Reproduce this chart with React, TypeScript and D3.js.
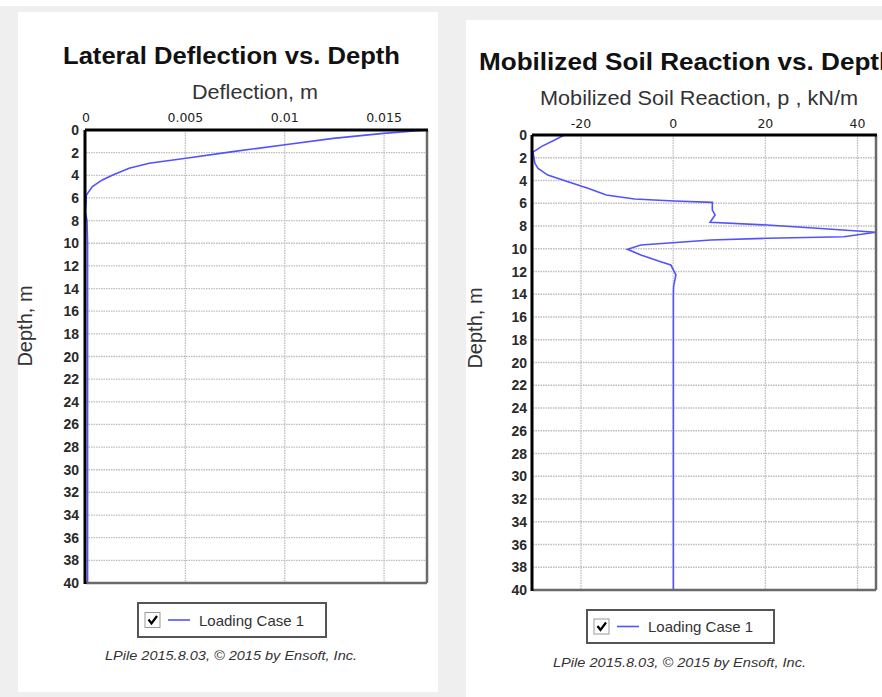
import React from "react";
import * as d3 from "d3";

// ---- Data ----
const depthTicks = [0, 2, 4, 6, 8, 10, 12, 14, 16, 18, 20, 22, 24, 26, 28, 30, 32, 34, 36, 38, 40];

const deflTicks = [0, 0.005, 0.01, 0.015];
const deflTickLabels = ["0", "0.005", "0.01", "0.015"];
const deflDepth = [0, 0.3, 0.74, 1.32, 1.91, 2.5, 2.94, 3.38, 3.97, 4.41, 5.0, 5.74, 6.5, 7.2, 8, 10, 15, 20, 25, 30, 35, 40];
const deflValue = [0.01716, 0.01497, 0.01244, 0.00992, 0.00739, 0.00503, 0.00318, 0.00217, 0.00135, 0.00082, 0.00032, 0.00002, 0.0, -0.00003, 0.00005, 0.00008, 0.00008, 0.00008, 0.00008, 0.00008, 0.00008, 0.00008];

const pTicks = [-20, 0, 20, 40];
const pTickLabels = ["-20", "0", "20", "40"];
const pDepth = [0, 0.44, 1.0, 1.5, 2.0, 2.49, 2.93, 3.52, 4.1, 4.69, 5.27, 5.63, 5.8, 5.92, 6.6, 7.03, 7.68, 7.91, 8.2, 8.55, 8.94, 9.08, 9.23, 9.67, 10.05, 10.55, 11.14, 11.43, 12.3, 13.3, 14, 20, 30, 40];
const pValue = [-23.6, -25.7, -28.5, -30.4, -30.2, -30.0, -29.3, -27.2, -22.8, -18.5, -14.5, -8.4, 0.2, 8.5, 8.5, 9.1, 8.0, 20.4, 31.2, 44.0, 37.0, 20.4, 8.2, -7.0, -9.9, -7.0, -2.7, -0.5, 0.6, 0.1, 0.05, 0.05, 0.05, 0.05];

const LINE = "#5252ff";
const FONT = "'Liberation Sans', Arial, Helvetica, sans-serif";
const TICKFONT = "'DejaVu Sans', Verdana, sans-serif";

type PanelProps = {
  id: string;
  title: string;
  titleX: number;
  titleY: number;
  titleSize: number;
  titleLength: number;
  xTitle: string;
  xTitleX: number;
  xTitleY: number;
  xTitleLength: number;
  yTitleX: number;
  yTitleY: number;
  plot: { x0: number; x1: number; y0: number; y1: number };
  xDomain: [number, number];
  xTicks: number[];
  xTickLabels: string[];
  xLabelY: number;
  yLabelX: number;
  depth: number[];
  values: number[];
  legend: { x: number; y: number; w: number; h: number };
  footerX: number;
  footerY: number;
  footerLength: number;
};

function Panel(p: PanelProps) {
  const { plot } = p;
  const x = d3.scaleLinear().domain(p.xDomain).range([plot.x0, plot.x1]);
  const y = d3.scaleLinear().domain([0, 40]).range([plot.y0, plot.y1]);
  const pts: [number, number][] = p.depth.map((d, i) => [p.values[i], d]);
  const line = d3
    .line<[number, number]>()
    .x((d) => x(d[0]))
    .y((d) => y(d[1]));
  const lg = p.legend;
  const cbx = lg.x + 7;
  const cby = lg.y + lg.h / 2 - 7.5;
  return (
    <g fontFamily={FONT}>
      <defs>
        <clipPath id={`clip-${p.id}`}>
          <rect x={plot.x0 - 1} y={plot.y0 - 1} width={plot.x1 - plot.x0 + 2} height={plot.y1 - plot.y0 + 2} />
        </clipPath>
      </defs>
      <text
        x={p.titleX}
        y={p.titleY}
        fontSize={p.titleSize}
        fontWeight="bold"
        fill="#111"
        textLength={p.titleLength}
        lengthAdjust="spacingAndGlyphs"
      >
        {p.title}
      </text>
      <text
        x={p.xTitleX}
        y={p.xTitleY}
        fontSize={20}
        fill="#333"
        textAnchor="middle"
        textLength={p.xTitleLength}
        lengthAdjust="spacingAndGlyphs"
      >
        {p.xTitle}
      </text>
      <text
        transform={`translate(${p.yTitleX},${p.yTitleY}) rotate(-90)`}
        fontSize={20}
        fill="#333"
        textAnchor="middle"
      >
        Depth, m
      </text>
      {/* grid */}
      {depthTicks
        .filter((t) => t > 0 && t < 40)
        .map((t) => (
          <line
            key={`h${t}`}
            x1={plot.x0}
            x2={plot.x1}
            y1={y(t)}
            y2={y(t)}
            stroke="#bdbdbd"
            strokeWidth={1.3}
            strokeDasharray="1.5,1"
          />
        ))}
      {p.xTicks
        .filter((t) => x(t) > plot.x0 + 2 && x(t) < plot.x1 - 2)
        .map((t) => (
          <line
            key={`v${t}`}
            x1={x(t)}
            x2={x(t)}
            y1={plot.y0}
            y2={plot.y1}
            stroke="#bdbdbd"
            strokeWidth={1.3}
            strokeDasharray="1.5,1"
          />
        ))}
      {/* x tick labels */}
      {p.xTicks.map((t, i) => (
        <text key={`xl${t}`} x={x(t)} y={p.xLabelY} fontSize={12.5} fontFamily={TICKFONT} fill="#222" textAnchor="middle">
          {p.xTickLabels[i]}
        </text>
      ))}
      {/* y tick labels */}
      {depthTicks.map((t) => (
        <text
          key={`yl${t}`}
          x={p.yLabelX}
          y={y(t)}
          dy="0.36em"
          fontSize={14}
          fontWeight="bold"
          fill="#2a2a2a"
          textAnchor="end"
        >
          {t}
        </text>
      ))}
      {/* data */}
      <path d={line(pts) || ""} fill="none" stroke={LINE} strokeWidth={1.6} clipPath={`url(#clip-${p.id})`} />
      {/* frame */}
      <line x1={plot.x1} x2={plot.x1} y1={plot.y0} y2={plot.y1} stroke="#6a6a6a" strokeWidth={2.5} />
      <line x1={plot.x0} x2={plot.x1} y1={plot.y1} y2={plot.y1} stroke="#6a6a6a" strokeWidth={2.5} />
      <line x1={plot.x0 - 1} x2={plot.x1 + 1} y1={plot.y0} y2={plot.y0} stroke="#000" strokeWidth={3} />
      <line x1={plot.x0 - 1} x2={plot.x0 - 1} y1={plot.y0} y2={plot.y1 + 1} stroke="#000" strokeWidth={3} />
      {/* legend */}
      <rect x={lg.x} y={lg.y} width={lg.w} height={lg.h} fill="#fff" stroke="#555" strokeWidth={2} />
      <rect x={cbx} y={cby} width={15} height={15} fill="#fff" stroke="#999" strokeWidth={1} />
      <path
        d={`M${cbx + 3.5},${cby + 7} L${cbx + 6.5},${cby + 11} L${cbx + 12},${cby + 3.5}`}
        fill="none"
        stroke="#000"
        strokeWidth={2.2}
      />
      <line x1={cbx + 23} x2={cbx + 45} y1={lg.y + lg.h / 2} y2={lg.y + lg.h / 2} stroke={LINE} strokeWidth={1.6} />
      <text x={cbx + 54} y={lg.y + lg.h / 2 + 5.5} fontSize={15} fill="#333">
        Loading Case 1
      </text>
      <text
        x={p.footerX}
        y={p.footerY}
        fontSize={13.5}
        fontStyle="italic"
        fill="#333"
        textAnchor="middle"
        textLength={p.footerLength}
        lengthAdjust="spacingAndGlyphs"
      >
        LPile 2015.8.03, © 2015 by Ensoft, Inc.
      </text>
    </g>
  );
}

export default function App() {
  return (
    <svg
      width={882}
      height={697}
      style={{ position: "absolute", left: 0, top: 0, display: "block" }}
    >
      <rect x={0} y={0} width={882} height={697} fill="#efefef" />
      <rect x={0} y={0} width={882} height={6} fill="#fff" />
      <rect x={18} y={12} width={420} height={680} fill="#fff" />
      <rect x={466} y={20} width={430} height={690} fill="#fff" />
      <Panel
        id="defl"
        title="Lateral Deflection vs. Depth"
        titleX={63}
        titleY={64}
        titleSize={23}
        titleLength={337}
        xTitle="Deflection, m"
        xTitleX={255}
        xTitleY={99}
        xTitleLength={126}
        yTitleX={32}
        yTitleY={326}
        plot={{ x0: 86, x1: 427, y0: 130, y1: 583 }}
        xDomain={[0, 0.01716]}
        xTicks={deflTicks}
        xTickLabels={deflTickLabels}
        xLabelY={121.5}
        yLabelX={79}
        depth={deflDepth}
        values={deflValue}
        legend={{ x: 138, y: 603, w: 188, h: 34 }}
        footerX={231}
        footerY={660}
        footerLength={252}
      />
      <Panel
        id="p"
        title="Mobilized Soil Reaction vs. Depth"
        titleX={479}
        titleY={70}
        titleSize={24}
        titleLength={416}
        xTitle="Mobilized Soil Reaction, p , kN/m"
        xTitleX={699}
        xTitleY={105}
        xTitleLength={318}
        yTitleX={482}
        yTitleY={328}
        plot={{ x0: 533, x1: 876, y0: 135, y1: 590 }}
        xDomain={[-30.4, 44.0]}
        xTicks={pTicks}
        xTickLabels={pTickLabels}
        xLabelY={128}
        yLabelX={527}
        depth={pDepth}
        values={pValue}
        legend={{ x: 587, y: 610, w: 187, h: 33 }}
        footerX={679.5}
        footerY={667}
        footerLength={253}
      />
    </svg>
  );
}
